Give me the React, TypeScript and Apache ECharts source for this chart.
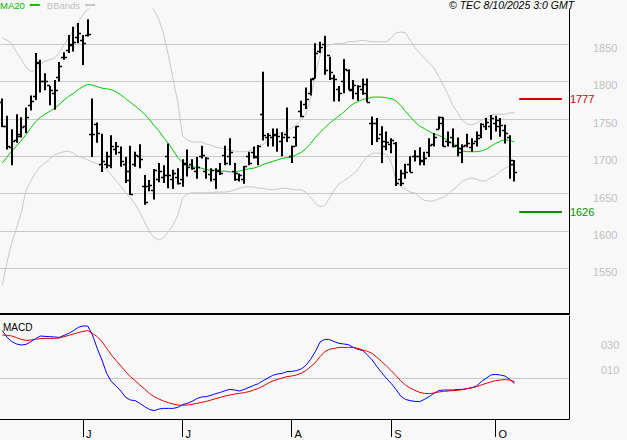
import React, { useEffect, useRef } from "react";
import * as echarts from "echarts";

const startDate = "2025-05-08";
const slotCount = 120;
const monthLetters = ["J", "F", "M", "A", "M", "J", "J", "A", "S", "O", "N", "D"];
const priceTicks = [1550, 1600, 1650, 1700, 1750, 1800, 1850];
const macdTicks = [10, 30];
const macdTickLabels = ["010", "030"];
const levelValues = [1777, 1626];
const levelColors = ["#c80000", "#009600"];
const titleText = "© TEC 8/10/2025 3:0 GMT";

const opens = [1772,1740,1712,1722,1730,1740,1768,1780,1826,1800, 1795,1785,1806,1832,1842,1850,1860,1855,1862,1730, 1743,1690,1690,1700,1710,1705,1690,1680,1690,1700, 1660,1660,1655,1670,1672,1700,1670,1672,1670,1690, 1690,1680,1700,1680,1676,1670,1680,1701,1700,1680, 1670,1670,1700,1705,1700,1756,1725,1725,1730,1720, 1730,1700,1725,1760,1770,1785,1805,1840,1850,1835, 1805,1790,1800,1815,1790,1785,1790,1785,1745,1745, 1730,1720,1716,1718,1670,1677,1690,1700,1700,1695, 1705,1716,1737,1752,1720,1725,1715,1705,1715,1712, 1720,1728,1740,1740,1745,1740,1735,1725,1690];
const highs = [1777,1754,1736,1756,1752,1765,1781,1838,1829,1811, 1794,1802,1826,1839,1862,1873,1878,1862,1883,1777, 1745,1730,1706,1728,1719,1713,1699,1714,1706,1716, 1675,1668,1683,1691,1688,1717,1682,1684,1696,1709, 1696,1699,1714,1699,1684,1684,1691,1714,1724,1691, 1677,1687,1706,1713,1715,1813,1731,1737,1737,1732, 1765,1714,1740,1774,1792,1804,1851,1853,1861,1833, 1809,1794,1830,1816,1802,1795,1804,1804,1753,1751, 1740,1733,1724,1719,1682,1690,1700,1708,1712,1706, 1724,1731,1753,1752,1733,1737,1725,1716,1730,1724, 1733,1744,1751,1755,1754,1751,1742,1728,1695];
const lows = [1739,1709,1688,1718,1725,1731,1761,1775,1785,1788, 1768,1762,1800,1829,1838,1840,1851,1822,1860,1699, 1718,1679,1684,1684,1702,1686,1664,1648,1686,1684, 1635,1653,1642,1665,1664,1657,1656,1662,1659,1673, 1682,1670,1697,1670,1666,1656,1675,1688,1688,1667, 1666,1663,1688,1697,1688,1721,1713,1713,1706,1700, 1719,1691,1713,1752,1763,1781,1804,1838,1809,1802, 1773,1773,1784,1788,1776,1774,1782,1772,1715,1719, 1691,1708,1704,1660,1660,1670,1679,1693,1688,1688, 1699,1713,1736,1713,1713,1712,1700,1691,1712,1706, 1713,1724,1735,1722,1733,1726,1717,1670,1666];
const closes = [1740,1713,1720,1727,1739,1752,1774,1824,1801,1801, 1789,1789,1820,1833,1849,1853,1865,1851,1863,1730, 1731,1693,1688,1713,1713,1693,1668,1650,1701,1696, 1639,1662,1682,1680,1675,1675,1677,1664,1691,1686, 1684,1686,1702,1697,1682,1682,1678,1691,1705,1677, 1675,1687,1691,1699,1713,1728,1728,1728,1727,1726, 1726,1713,1740,1754,1776,1803,1838,1846,1815,1813, 1803,1784,1816,1789,1795,1794,1797,1773,1744,1724, 1714,1719,1721,1664,1664,1679,1679,1700,1693,1697, 1715,1725,1745,1714,1719,1714,1711,1713,1717,1717, 1724,1743,1746,1751,1748,1742,1731,1695,1679];

const ma20 = [1691,1699,1707,1714,1721,1729,1738,1746,1752,1756, 1760,1764,1769,1775,1780,1784,1789,1793,1796,1795, 1793,1791,1790,1789,1786,1782,1777,1772,1767,1762, 1756,1749,1741,1734,1725,1717,1708,1698,1692,1688, 1686,1685,1684,1682,1681,1681,1680,1680,1679,1679, 1680,1682,1683,1684,1686,1689,1691,1693,1695,1697, 1698,1699,1702,1705,1710,1717,1725,1732,1738,1744, 1749,1754,1759,1765,1770,1773,1776,1777,1779,1779, 1779,1778,1777,1774,1768,1760,1753,1746,1740,1737, 1733,1730,1728,1725,1721,1717,1712,1707,1706,1706, 1706,1707,1709,1713,1717,1720,1722,1721,1719];
const bbUpper = [1858,1855,1850,1839,1829,1819,1813,1815,1823,1827, 1829,1831,1839,1849,1858,1869,1879,1889,1897,1900, 1903,1908,1912,1915,1918,1920,1920,1918,1915,1912, 1908,1903,1895,1883,1863,1835,1803,1772,1727,1722, 1719,1719,1719,1716,1715,1712,1711,1710,1708,1707, 1706,1706,1707,1710,1714,1716,1720,1727,1730,1731, 1734,1738,1742,1748,1756,1777,1809,1835,1845,1849, 1850,1851,1851,1853,1853,1854,1855,1854,1853,1853, 1853,1853,1858,1865,1866,1865,1855,1845,1838,1831, 1825,1818,1807,1795,1782,1768,1758,1748,1743,1742, 1744,1748,1751,1755,1756,1756,1756,1758,1758];
const bbLower = [1528,1559,1585,1604,1625,1655,1667,1678,1686,1691, 1696,1702,1704,1706,1707,1704,1700,1698,1695,1692, 1690,1686,1682,1675,1667,1660,1651,1644,1636,1625, 1612,1599,1591,1588,1591,1599,1608,1621,1644,1649, 1651,1651,1651,1651,1651,1652,1652,1652,1653,1655, 1657,1659,1659,1659,1657,1657,1656,1655,1656,1657, 1657,1656,1655,1655,1652,1645,1637,1632,1634,1644, 1655,1663,1667,1671,1676,1682,1692,1700,1704,1704, 1704,1703,1692,1668,1659,1656,1652,1651,1645,1641, 1640,1640,1643,1645,1649,1655,1660,1667,1669,1671, 1669,1667,1667,1671,1674,1680,1684,1687,1688];

const macd = [37.9,32.5,29.1,27.2,26.4,26.9,29.1,31.5,33.6,33.3, 33.1,32.8,32.5,34.1,35.7,37.9,40.5,41.6,41.6,34.4, 23.7,14.4,3.7,-2.9,-6.4,-10.4,-15.5,-17.6,-18.1,-20.3, -22.9,-25.1,-26.1,-24.8,-24.3,-24.3,-24.3,-23.5,-21.3,-20.3, -18.7,-16.5,-15.2,-14.9,-13.9,-12.5,-11.5,-10.1,-9.1,-9.6, -10.4,-9.1,-7.5,-5.9,-4.5,-2.1,0,2.1,3.2,3.7, 5.1,5.3,5.9,7.2,10.1,14.9,21.1,28.8,31,30.7, 29.1,27.7,27.2,26.7,24.5,23,21.9,18.4,14.4,9.1, 4.3,-0.3,-4.3,-9.1,-14.4,-17.1,-18.1,-18.7,-18.9,-17.1, -14.9,-12.3,-10.1,-9.6,-9.6,-9.6,-9.1,-9.1,-8.5,-7.7, -6.4,-2.9,-0.3,2.4,2.9,2.4,1.6,-1.1,-4.3];
const signal = [34.4,34.1,33.6,32.3,30.9,30.1,30.4,30.9,31.5,31.7, 31.7,31.7,32,33.1,34.1,35.2,36.3,37.3,37.9,35.7, 33.1,29.1,23.7,18.4,13.9,9.6,5.1,1.1,-2.1,-5.6, -8.8,-12.3,-14.9,-16.8,-18.4,-19.7,-20.8,-21.6,-21.9,-21.6, -21.1,-20.3,-19.5,-18.7,-17.6,-16.5,-15.5,-14.4,-13.6,-12.8, -12.3,-11.7,-10.9,-9.6,-8.3,-6.4,-4.3,-2.4,-1.1,0, 1.1,1.6,2.4,3.7,5.9,9.1,12.3,17.1,21.1,23, 23.7,24.5,24.5,24.5,24.5,23.7,22.4,21.3,19.7,16.5, 13.1,9.6,5.9,1.9,-2.1,-5.6,-8,-9.9,-11.5,-12.3, -12.5,-12,-11.2,-10.7,-10.4,-10.1,-9.9,-9.3,-8.5,-8, -6.9,-5.6,-4.3,-3.2,-2.1,-1.6,-1.3,-1.6,-2.9];

function buildDates(start: string, count: number): string[] {
  const out: string[] = [];
  const d = new Date(start + "T00:00:00Z");
  while (out.length < count) {
    const wd = d.getUTCDay();
    if (wd !== 0 && wd !== 6) out.push(d.toISOString().slice(0, 10));
    d.setUTCDate(d.getUTCDate() + 1);
  }
  return out;
}

const dates = buildDates(startDate, slotCount);
const isMonthStart = (i: number) => i > 0 && dates[i].slice(5, 7) !== dates[i - 1].slice(5, 7);

const FONT = "Liberation Sans";

export default function App() {
  const ref = useRef<HTMLDivElement>(null);
  useEffect(() => {
    if (!ref.current) return;
    const chart = echarts.init(ref.current, undefined, { renderer: "svg" });
    const ohlc = opens.map((o, i) => [i, o, highs[i], lows[i], closes[i]]);
    const option: any = {
      animation: false,
      backgroundColor: "#f8f8f8",
      textStyle: { fontFamily: FONT },
      legend: {
        left: 0,
        top: 0,
        padding: 0,
        align: "right",
        itemWidth: 10,
        itemHeight: 2,
        itemGap: 7,
        icon: "rect",
        selectedMode: false,
        textStyle: { fontSize: 9.5, fontFamily: FONT },
        data: [
          { name: "MA20", textStyle: { color: "#00b400" }, itemStyle: { color: "#00c800" } },
          { name: "BBands", textStyle: { color: "#c0c0c0" }, itemStyle: { color: "#c8c8c8" } },
        ],
      },
      graphic: [
        {
          type: "text",
          left: 449,
          top: -1,
          style: { text: titleText, font: "italic 10.5px " + FONT, fill: "#000" },
          z: 100,
        },
        {
          type: "text",
          left: 3,
          top: 322,
          style: { text: "MACD", font: "10px " + FONT, fill: "#000" },
          z: 100,
        },
      ],
      grid: [
        { left: 0, right: 58, top: 9, height: 305 },
        { left: 0, right: 58, top: 316, height: 103 },
      ],
      xAxis: [
        {
          type: "category",
          gridIndex: 0,
          data: dates,
          boundaryGap: true,
          axisLine: { onZero: false, lineStyle: { color: "#000", width: 2 } },
          axisTick: { show: false },
          axisLabel: { show: false },
          splitLine: { show: false },
        },
        {
          type: "category",
          gridIndex: 1,
          data: dates,
          boundaryGap: true,
          axisLine: { onZero: false, lineStyle: { color: "#000", width: 1 } },
          axisTick: {
            show: true,
            alignWithLabel: true,
            length: 18,
            interval: (i: number) => isMonthStart(i),
            lineStyle: { color: "#000", width: 1 },
          },
          axisLabel: {
            show: true,
            interval: (i: number) => isMonthStart(i),
            formatter: (v: string) => monthLetters[parseInt(v.slice(5, 7), 10) - 1],
            align: "left",
            margin: 9,
            padding: [0, 0, 0, 3],
            fontSize: 11,
            color: "#000",
            fontFamily: FONT,
          },
          splitLine: { show: false },
        },
      ],
      yAxis: [
        {
          type: "value",
          gridIndex: 0,
          position: "right",
          min: 1489,
          max: 1896.8,
          axisLine: { show: true, lineStyle: { color: "#000", width: 1 } },
          axisTick: { show: false, customValues: priceTicks },
          axisLabel: {
            customValues: priceTicks,
            formatter: (v: number) => String(v),
            margin: 24,
            fontSize: 11,
            color: "#c0c0c0",
            fontFamily: FONT,
            verticalAlign: "top",
            lineHeight: 8,
          },
          splitLine: { show: true, lineStyle: { color: "#c8c8c8", width: 1 } },
        },
        {
          type: "value",
          gridIndex: 1,
          position: "right",
          min: -32.8,
          max: 49.6,
          axisLine: { show: true, lineStyle: { color: "#000", width: 1 } },
          axisTick: { show: false, customValues: macdTicks },
          axisLabel: {
            customValues: macdTicks,
            formatter: (v: number) => macdTickLabels[macdTicks.indexOf(v)] ?? "",
            margin: 32,
            fontSize: 11,
            color: "#c0c0c0",
            fontFamily: FONT,
            verticalAlign: "top",
            lineHeight: 9,
          },
          splitLine: { show: false },
        },
      ],
      series: [
        {
          name: "BBands",
          type: "line",
          xAxisIndex: 0,
          yAxisIndex: 0,
          data: bbUpper,
          showSymbol: false,
          lineStyle: { color: "#c8c8c8", width: 1 },
          itemStyle: { color: "#c8c8c8" },
          z: 2,
        },
        {
          name: "BBands",
          type: "line",
          xAxisIndex: 0,
          yAxisIndex: 0,
          data: bbLower,
          showSymbol: false,
          lineStyle: { color: "#c8c8c8", width: 1 },
          itemStyle: { color: "#c8c8c8" },
          z: 2,
        },
        {
          name: "MA20",
          type: "line",
          xAxisIndex: 0,
          yAxisIndex: 0,
          data: ma20,
          showSymbol: false,
          lineStyle: { color: "#00c800", width: 1 },
          itemStyle: { color: "#00c800" },
          z: 3,
          markLine: {
            symbol: "none",
            silent: true,
            data: levelValues.map((v, k) => [
              {
                coord: [dates[109], v],
                lineStyle: { color: levelColors[k], width: 2, type: "solid" },
                label: {
                  show: true,
                  position: "end",
                  distance: 8,
                  formatter: String(v),
                  color: levelColors[k],
                  fontSize: 11,
                  fontFamily: FONT,
                },
              },
              { coord: [dates[118], v] },
            ]),
          },
        },
        {
          name: "OHLC",
          type: "custom",
          xAxisIndex: 0,
          yAxisIndex: 0,
          data: ohlc,
          encode: { x: 0, y: [1, 2, 3, 4] },
          z: 5,
          renderItem: (params: any, api: any) => {
            const idx = api.value(0);
            const hi = api.coord([idx, api.value(2)]);
            const lo = api.coord([idx, api.value(3)]);
            const op = api.coord([idx, api.value(1)]);
            const cl = api.coord([idx, api.value(4)]);
            const x = Math.round(hi[0]);
            const oy = Math.round(op[1]) + 0.5;
            const cy = Math.round(cl[1]) + 0.5;
            return {
              type: "group",
              children: [
                { type: "line", shape: { x1: x, y1: hi[1], x2: x, y2: lo[1] }, style: { stroke: "#000", lineWidth: 2 } },
                { type: "line", shape: { x1: x - 3, y1: oy, x2: x, y2: oy }, style: { stroke: "#000", lineWidth: 1.5 } },
                { type: "line", shape: { x1: x, y1: cy, x2: x + 3, y2: cy }, style: { stroke: "#000", lineWidth: 1.5 } },
              ],
            };
          },
        },
        {
          name: "MACD",
          type: "line",
          xAxisIndex: 1,
          yAxisIndex: 1,
          data: macd,
          showSymbol: false,
          lineStyle: { color: "#0000ff", width: 1 },
          z: 4,
          markLine: {
            symbol: "none",
            silent: true,
            label: { show: false },
            lineStyle: { color: "#c8c8c8", width: 1, type: "solid" },
            data: [{ yAxis: 0 }],
            z: 1,
          },
        },
        {
          name: "Signal",
          type: "line",
          xAxisIndex: 1,
          yAxisIndex: 1,
          data: signal,
          showSymbol: false,
          lineStyle: { color: "#e00000", width: 1 },
          z: 4,
        },
      ],
    };
    chart.setOption(option);
    return () => chart.dispose();
  }, []);
  return (
    <div
      ref={ref}
      style={{ position: "fixed", left: 0, top: 0, width: 627, height: 440 }}
    />
  );
}
